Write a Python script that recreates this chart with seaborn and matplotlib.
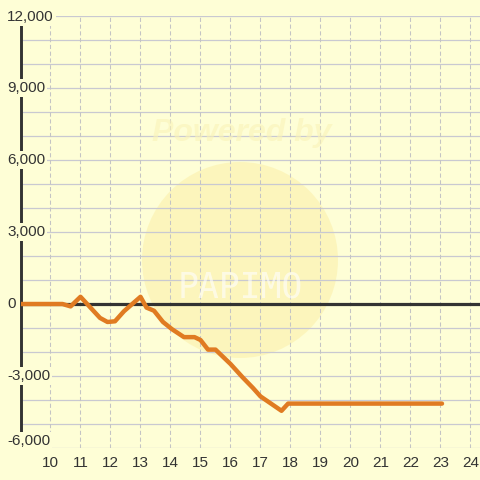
import matplotlib
matplotlib.use("Agg")
import matplotlib.pyplot as plt
import matplotlib.transforms as mtransforms
from matplotlib.patches import Circle
import seaborn as sns
import pandas as pd

# ---- data ----
hours = [9.0, 10.4, 10.67, 11.0, 11.65, 11.9, 12.15, 12.45, 13.0, 13.2, 13.45,
         13.75, 14.05, 14.45, 14.8, 15.0, 15.25, 15.5, 15.75, 16.0, 16.4,
         16.75, 17.0, 17.7, 17.92, 23.05]
profit = [0, 0, -100, 300, -580, -750, -720, -300, 300, -150, -280,
          -750, -1050, -1380, -1380, -1500, -1900, -1900, -2200, -2500, -3050,
          -3500, -3850, -4450, -4150, -4150]
x_ticks = list(range(10, 25))
y_ticks = [-6000, -3000, 0, 3000, 6000, 9000, 12000]
y_tick_labels = ["-6,000", "-3,000", "0", "3,000", "6,000", "9,000", "12,000"]
y_minor = list(range(-6000, 12001, 1000))

df = pd.DataFrame({"hour": hours, "profit": profit})

BG = "#FEFED6"
TXT = "#333333"
FONT = ["Liberation Sans", "DejaVu Sans"]

sns.set_style("white")
plt.rcParams["font.family"] = FONT

fig = plt.figure(figsize=(4.8, 4.8), dpi=100, facecolor=BG)
W = 480.0
ax = fig.add_axes([20.5 / W, 32 / W, 459.5 / W, 432 / W])
ax.set_facecolor(BG)

# watermark (faint)
circ = Circle((240 / W, 1 - 260 / W), 98 / W, transform=fig.transFigure,
              facecolor="#FBEC9E", edgecolor="none", alpha=0.45, zorder=0.5)
ax.add_artist(circ)
fig.text(242 / W, 1 - 133 / W, "Powered by", ha="center", va="center",
         fontsize=23, fontweight="bold", style="italic", color="#FAF3B8",
         alpha=0.6, zorder=0.6)
fig.text(240 / W, 1 - 287 / W, "PAPIMO", ha="center", va="center",
         fontsize=25, fontweight="light", color="white", alpha=0.6,
         family=["DejaVu Sans Mono", "DejaVu Sans"], zorder=0.6)

ax.set_xlim(9, 24.317)
ax.set_ylim(-6000, 12000)

# grids
for v in y_minor:
    ax.axhline(v, color="#C9C9D1", lw=0.9, zorder=1)
for v in x_ticks:
    ax.axvline(v, color="#C4C4C4", lw=0.75, dashes=(4, 2.5), zorder=1)

# zero line
ax.axhline(0, color="#333333", lw=2.3, zorder=2)

sns.lineplot(data=df, x="hour", y="profit", ax=ax, color="#E07B22",
             lw=3.2, zorder=3)

for s in ["top", "right", "bottom"]:
    ax.spines[s].set_visible(False)
ax.spines["left"].set_color("#333333")
ax.spines["left"].set_linewidth(2.1)
ax.spines["left"].set_zorder(2.5)

ax.set_xticks(x_ticks)
ax.set_xticklabels([str(v) for v in x_ticks])
ax.tick_params(axis="x", length=0, pad=6, labelsize=11, labelcolor=TXT)
ax.set_yticks([])
ax.set_xlabel("")
ax.set_ylabel("")

trans = ax.get_yaxis_transform()
xlab = (7 - 20.5) / 459.5
for v, lab in zip(y_ticks, y_tick_labels):
    off = 0
    if v == -6000:
        off = 7 / 100 * 72
    elif v == 12000:
        off = -1 / 100 * 72
    t = mtransforms.offset_copy(trans, fig=fig, x=0, y=off, units="points")
    ax.text(xlab, v, lab, transform=t, ha="left", va="center",
            fontsize=11, color=TXT, clip_on=False, zorder=6,
            bbox=dict(facecolor=BG, edgecolor="none", pad=1.5))

fig.savefig("out.png", dpi=100, facecolor=BG)
